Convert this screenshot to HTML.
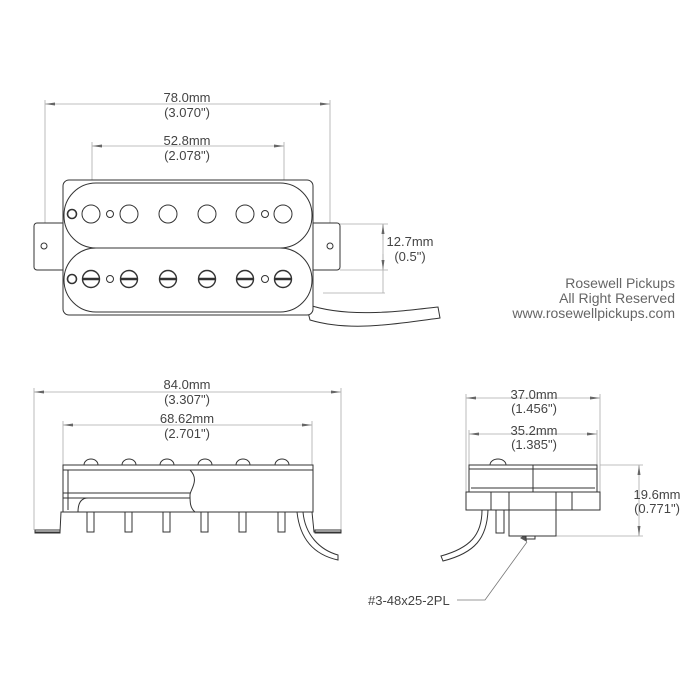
<!DOCTYPE html>
<html><head><meta charset="utf-8"><style>
html,body{margin:0;padding:0;background:#fff;width:700px;height:700px;overflow:hidden}
text{font-family:"Liberation Sans",sans-serif;fill:#444;font-size:13px}
</style></head><body>
<svg width="700" height="700" viewBox="0 0 700 700" xmlns="http://www.w3.org/2000/svg">
<defs>
<marker id="a" viewBox="0 0 10 6" refX="10" refY="3" markerWidth="10" markerHeight="6" orient="auto-start-reverse" markerUnits="userSpaceOnUse"><path d="M0,1.5 L10,3 L0,4.5z" fill="#666"/></marker>
</defs>
<g stroke="#aaa" stroke-width="0.8" fill="none">
<line x1="45" y1="104" x2="330" y2="104" marker-start="url(#a)" marker-end="url(#a)"/>
<line x1="45" y1="100" x2="45" y2="225"/><line x1="330" y1="100" x2="330" y2="225"/>
<line x1="92" y1="146" x2="284" y2="146" marker-start="url(#a)" marker-end="url(#a)"/>
<line x1="92" y1="142" x2="92" y2="213"/><line x1="284" y1="142" x2="284" y2="213"/>
<line x1="383" y1="224" x2="383" y2="293"/>
<line x1="383" y1="224" x2="383" y2="240" marker-start="url(#a)"/>
<line x1="383" y1="270" x2="383" y2="254" marker-start="url(#a)"/>
<line x1="340" y1="224" x2="388" y2="224"/><line x1="340" y1="270" x2="388" y2="270"/><line x1="323" y1="293" x2="385" y2="293"/>
<line x1="34" y1="392" x2="341" y2="392" marker-start="url(#a)" marker-end="url(#a)"/>
<line x1="34" y1="388" x2="34" y2="530"/><line x1="341" y1="388" x2="341" y2="530"/>
<line x1="63" y1="425" x2="312" y2="425" marker-start="url(#a)" marker-end="url(#a)"/>
<line x1="63" y1="421" x2="63" y2="465"/><line x1="312" y1="421" x2="312" y2="465"/>
<line x1="466" y1="398" x2="600" y2="398" marker-start="url(#a)" marker-end="url(#a)"/>
<line x1="466" y1="394" x2="466" y2="492"/><line x1="600" y1="394" x2="600" y2="492"/>
<line x1="469" y1="434" x2="597" y2="434" marker-start="url(#a)" marker-end="url(#a)"/>
<line x1="469" y1="430" x2="469" y2="465"/><line x1="597" y1="430" x2="597" y2="465"/>
<line x1="639" y1="465" x2="639" y2="536" marker-start="url(#a)" marker-end="url(#a)"/>
<line x1="600" y1="465" x2="643" y2="465"/><line x1="556" y1="536" x2="643" y2="536"/>
<polyline points="457,600 485,600 527,542" stroke="#777"/>
</g>
<path d="M520,538 L527,542 L526,534z" fill="#555"/>
<g text-anchor="middle">
<text x="187" y="102">78.0mm</text><text x="187" y="117">(3.070")</text>
<text x="187" y="145">52.8mm</text><text x="187" y="160">(2.078")</text>
<text x="410" y="246">12.7mm</text><text x="410" y="261">(0.5")</text>
<text x="187" y="389">84.0mm</text><text x="187" y="404">(3.307")</text>
<text x="187" y="423">68.62mm</text><text x="187" y="438">(2.701")</text>
<text x="534" y="399">37.0mm</text><text x="534" y="413">(1.456")</text>
<text x="534" y="435">35.2mm</text><text x="534" y="449">(1.385")</text>
<text x="657" y="499">19.6mm</text><text x="657" y="513">(0.771")</text>
</g>
<text x="368" y="605">#3-48x25-2PL</text>
<g text-anchor="end">
<text x="675" y="288" style="fill:#666;font-size:14px">Rosewell Pickups</text>
<text x="675" y="303" style="fill:#666;font-size:14px">All Right Reserved</text>
<text x="675" y="318" style="fill:#666;font-size:14px">www.rosewellpickups.com</text>
</g>
<g stroke="#333" stroke-width="1" fill="#fff">
<path d="M306,304 C345,318 395,312 438,307 L440,318 C395,324 350,332 310,320z"/>
<rect x="34" y="223" width="32" height="47" rx="3"/>
<rect x="310" y="223" width="30" height="47" rx="3"/>
<circle cx="44" cy="246" r="3"/><circle cx="330" cy="246" r="3"/>
<rect x="63" y="180" width="250" height="135" rx="6"/>
<rect x="64" y="183" width="248" height="65" rx="32"/>
<rect x="64" y="248" width="248" height="64" rx="32"/>
<g fill="#fff">
<circle cx="72" cy="214" r="4.5" stroke-width="1.6"/><circle cx="72" cy="279" r="4.5" stroke-width="1.6"/>
<circle cx="91" cy="214" r="9"/><circle cx="129" cy="214" r="9"/><circle cx="168" cy="214" r="9"/><circle cx="207" cy="214" r="9"/><circle cx="245" cy="214" r="9"/><circle cx="283" cy="214" r="9"/>
<circle cx="110" cy="214" r="3.5"/><circle cx="265" cy="214" r="3.5"/>
<circle cx="110" cy="279" r="3.5"/><circle cx="265" cy="279" r="3.5"/>
</g>
<g stroke-width="1.4">
<circle cx="91" cy="279" r="8.5"/><circle cx="129" cy="279" r="8.5"/><circle cx="168" cy="279" r="8.5"/><circle cx="207" cy="279" r="8.5"/><circle cx="245" cy="279" r="8.5"/><circle cx="283" cy="279" r="8.5"/>
<path d="M82.5,279h17M120.5,279h17M159.5,279h17M198.5,279h17M236.5,279h17M274.5,279h17" stroke-width="2.5"/>
</g>
<path d="M297,512 C300,540 315,555 338,560 L338,555 C320,550 305,535 303,512" fill="#fff"/>
<path d="M35,532 L60,532 L61,512 L312,512 L314,532 L341,532" fill="none"/>
<rect x="35" y="530" width="25" height="3" fill="none"/><rect x="315" y="530" width="26" height="3" fill="none"/>
<g fill="#fff">
<rect x="87" y="512" width="7" height="20"/><rect x="125" y="512" width="7" height="20"/><rect x="163" y="512" width="7" height="20"/><rect x="201" y="512" width="7" height="20"/><rect x="239" y="512" width="7" height="20"/><rect x="278" y="512" width="7" height="20"/>
</g>
<rect x="63" y="465" width="250" height="47" fill="#fff"/>
<path d="M63,470 H313 M68,470 V510 M63,493 H190 M63,498 H190 M88,498 C80,498 78,505 78,512" fill="none"/>
<path d="M190,470 C200,480 190,490 190,495 C190,502 190,508 195,512" fill="none"/>
<g fill="#fff">
<path d="M84,465 a7,6 0 0 1 14,0z"/><path d="M122,465 a7,6 0 0 1 14,0z"/><path d="M160,465 a7,6 0 0 1 14,0z"/><path d="M198,465 a7,6 0 0 1 14,0z"/><path d="M236,465 a7,6 0 0 1 14,0z"/><path d="M275,465 a7,6 0 0 1 14,0z"/>
</g>
<path d="M482,510 C482,535 470,548 441,556 L443,561 C475,553 487,538 488,510" fill="#fff"/>
<rect x="496" y="510" width="8" height="23"/>
<rect x="509" y="510" width="47" height="26"/>
<rect x="526" y="536" width="9" height="3"/>
<rect x="466" y="492" width="134" height="18"/>
<path d="M491,492V510M509,492V510M556,492V510M572,492V510" fill="none"/>
<rect x="469" y="465" width="128" height="27"/>
<path d="M469,469H597M471,488H595M533,465V492" fill="none"/>
<path d="M490,465 a8,6 0 0 1 16,0z"/>
</g>
</svg>
</body></html>
